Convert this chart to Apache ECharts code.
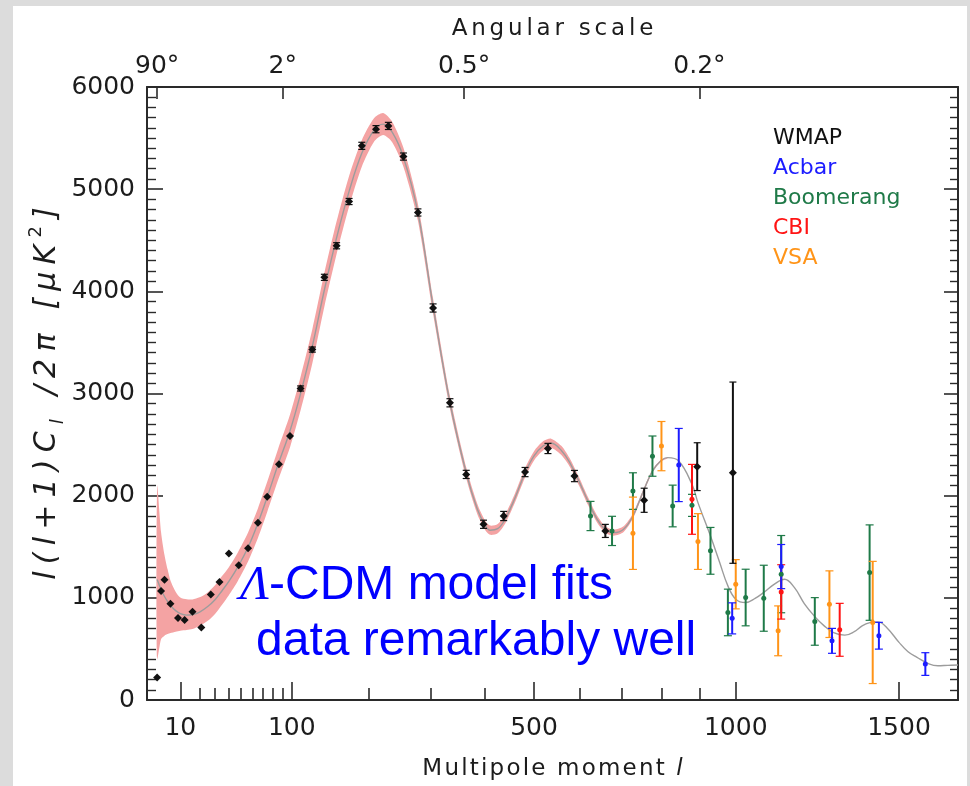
<!DOCTYPE html>
<html><head><meta charset="utf-8">
<script src="https://cdn.jsdelivr.net/npm/echarts@6/dist/echarts.min.js"></script>
<style>
html,body{margin:0;padding:0;background:#dcdcdc;}
#bg{position:absolute;left:13px;top:6px;width:954px;height:780px;background:#fff;}
#c{position:absolute;left:0;top:0;width:970px;height:786px;}
</style>
</head><body><div id="bg"></div><div id="c"></div>
<script>
// ---- axis definition (x axis drawn on an l^0.6 scale) ----
const POW = 0.6;
const L_MIN = 0.25, L_MAX = 1700;
const xMajorTicks = [10, 100, 500, 1000, 1500];
const xMinorTicks = [20, 30, 40, 50, 60, 70, 80, 90, 200, 300, 400, 600, 700, 800, 900];
const topTickL = [2, 90, 360, 900];
const topTickLabels = ['90°', '2°', '0.5°', '0.2°'];

// ---- WMAP ----
const wmapL = [2,3,4,6,9,12,16,21,27,33,40,48,56,65,74,86,98,110,124,139,155,172,190,211,230,254,278,304,334,364,397,437,481,530,589,661,756,894,992];
const wmapV = [221,1068,1176,941,802,782,863,710,1033,1156,1433,1319,1485,1736,1990,2307,2583,3049,3430,4137,4446,4879,5424,5587,5619,5319,4772,3837,2909,2208,1720,1801,2231,2462,2192,1655,1955,2284,2225];
const wmapErr = [0,0,0,0,0,0,0,0,0,0,0,0,0,0,0,0,0,25,25,30,30,30,35,35,35,35,35,40,40,40,40,45,45,50,55,64,118,234,887];
// ---- Acbar ----
const acbarL = [845,990,1131,1285,1434,1588];
const acbarV = [2300,799,1306,579,629,352];
const acbarErr = [358,152,216,122,131,111];
// ---- Boomerang ----
const boomL = [626,677,728,777,829,880,930,978,1028,1080,1131,1232,1404];
const boomV = [1801,1655,2045,2387,1899,1905,1460,857,1003,996,1232,769,1247];
const boomErr = [143,143,179,197,204,108,229,228,277,323,378,233,467];
// ---- CBI ----
const cbiL = [880,1131,1309];
const cbiV = [1964,1058,687];
const cbiErr = [342,266,259];
// ---- VSA ----
const vsaL = [728,800,896,1000,1122,1277,1414];
const vsaV = [1632,2485,1551,1133,677,938,759];
const vsaErr = [354,241,273,241,244,326,598];

// ---- Lambda-CDM model curve ----
const modelL = [2,3,4,5,6,8,10,13,16,20,25,30,35,40,47,56,65,74,85,98,110,124,139,155,172,190,208,222,236,254,278,304,334,364,385,400,410,425,440,460,481,500,520,537,560,580,600,620,640,660,681,705,728,756,777,800,816,845,880,896,930,955,978,1000,1028,1055,1080,1110,1141,1170,1200,1232,1260,1290,1325,1355,1380,1405,1431,1460,1500,1530,1560,1600,1631,1665,1700];
const modelV = [1180,1082,1013,964,925,875,846,831,836,861,915,984,1072,1161,1298,1495,1731,1987,2302,2636,3000,3463,4013,4525,4978,5351,5578,5637,5558,5312,4771,3856,2912,2223,1869,1712,1662,1677,1771,1977,2223,2390,2489,2513,2440,2312,2135,1948,1781,1672,1638,1672,1801,2062,2241,2346,2372,2339,2111,1932,1605,1348,1117,987,954,994,1053,1131,1182,1102,944,816,728,659,635,669,726,757,765,708,564,472,417,354,335,339,342];

// ---- cosmic variance band ----
const bandL = [2,3,4,5,6,8,10,13,16,20,25,30,35,40,47,56,65,74,85,98,110,124,139,155,172,190,208,222,236,254,278,304,334,364,385,400,410,425,440,460,481,500,520,537,560,580,600,620,640,660,681,705,728,756,777,800,816];
const bandHi = [2095,1643,1420,1279,1170,1060,1003,985,984,1005,1053,1125,1215,1300,1440,1640,1875,2135,2455,2795,3165,3630,4180,4685,5130,5480,5695,5745,5660,5405,4855,3930,2975,2278,1920,1757,1707,1722,1816,2022,2268,2435,2534,2558,2485,2352,2175,1986,1816,1704,1668,1700,1826,2082,2256,2356,2377];
const bandLo = [400,596,630,645,655,668,679,686,696,725,775,845,935,1025,1160,1355,1585,1840,2150,2475,2835,3295,3850,4365,4830,5220,5465,5530,5460,5220,4690,3780,2850,2170,1820,1667,1617,1632,1726,1932,2178,2345,2444,2468,2395,2272,2095,1910,1746,1640,1608,1644,1776,2042,2226,2336,2367];

const FONT = 'DejaVu Sans';
const AX = '#2a2a2a';
const TXT = '#1c1c1c';
const t = l => Math.pow(l, POW);
const XMIN = t(L_MIN), XMAX = t(L_MAX);

// letter-spaced rich text helper (each character its own token)
const spaced = (s, tok) => s.split('').map(c => `{${tok}|${c}}`).join('');

const colors = {WMAP:'#111111', Acbar:'#1c1cff', Boomerang:'#1f7a48', CBI:'#ff1414', VSA:'#ff9418'};

function errSeries(name, L, V, E, color, capW, lw) {
  return {
    name, type:'custom', xAxisIndex:0, yAxisIndex:0, z:5, silent:true,
    data: L.map((l,i)=>[t(l), V[i], E[i]]),
    renderItem: (params, api) => {
      const x = api.value(0), y = api.value(1), e = api.value(2);
      if (!e) return null;
      const p1 = api.coord([x, y+e]), p2 = api.coord([x, y-e]);
      return {type:'group', children:[
        {type:'line', shape:{x1:p1[0],y1:p1[1],x2:p2[0],y2:p2[1]}, style:{stroke:color,lineWidth:lw}},
        {type:'line', shape:{x1:p1[0]-capW,y1:p1[1],x2:p1[0]+capW,y2:p1[1]}, style:{stroke:color,lineWidth:1.2}},
        {type:'line', shape:{x1:p2[0]-capW,y1:p2[1],x2:p2[0]+capW,y2:p2[1]}, style:{stroke:color,lineWidth:1.2}}
      ]};
    }
  };
}
function pointSeries(name, L, V, color, symbol, size) {
  return {name, type:'scatter', xAxisIndex:0, yAxisIndex:0, z:6, silent:true,
    symbol, symbolSize:size, itemStyle:{color, opacity:1},
    data: L.map((l,i)=>[t(l), V[i]])};
}

const tickLabelStyle = {fontFamily:FONT, fontSize:25, color:TXT};
const yName = spaced('l(l+1)C','i') + '{s|l}' + spaced(' /2π [μK','i') + '{p|2}' + '{i|]}';

const option = {
  backgroundColor:'transparent',
  animation:false,
  grid:{left:147, right:12, top:87, bottom:85, containLabel:false},
  legend:{
    orient:'vertical', left:763, top:122, icon:'none', itemWidth:0, itemHeight:0, itemGap:8,
    selectedMode:false, textStyle:{fontFamily:FONT, fontSize:22},
    data:[
      {name:'WMAP', textStyle:{color:colors.WMAP}},
      {name:'Acbar', textStyle:{color:colors.Acbar}},
      {name:'Boomerang', textStyle:{color:colors.Boomerang}},
      {name:'CBI', textStyle:{color:colors.CBI}},
      {name:'VSA', textStyle:{color:colors.VSA}}
    ]
  },
  xAxis:[
    {
      type:'value', position:'bottom', min:XMIN, max:XMAX,
      axisLine:{show:true, onZero:false, lineStyle:{color:AX, width:2}},
      axisTick:{show:true, inside:true, length:18, customValues:xMajorTicks.map(t), lineStyle:{color:AX, width:1.6}},
      axisLabel:{show:true, customValues:xMajorTicks.map(t), margin:16,
        formatter:v=>String(Math.round(Math.pow(v,1/POW))), ...tickLabelStyle},
      splitLine:{show:false},
      name: spaced('Multipole moment ','a') + '{b|l}', nameLocation:'middle', nameGap:58,
      nameTextStyle:{rich:{
        a:{fontFamily:FONT, fontSize:23, color:TXT, padding:[0,1.1,0,1.1]},
        b:{fontFamily:FONT, fontSize:23, fontStyle:'italic', color:TXT, padding:[0,1,0,1]}
      }}
    },
    {
      type:'value', position:'top', min:XMIN, max:XMAX,
      axisLine:{show:true, onZero:false, lineStyle:{color:AX, width:2}},
      axisTick:{show:true, inside:true, length:12, customValues:topTickL.map(t), lineStyle:{color:AX, width:1.6}},
      axisLabel:{show:true, customValues:topTickL.map(t), margin:8, ...tickLabelStyle,
        formatter:v=>{let b=0; topTickL.forEach((l,i)=>{if(Math.abs(t(l)-v)<Math.abs(t(topTickL[b])-v)) b=i;}); return topTickLabels[b];}},
      splitLine:{show:false},
      name: spaced('Angular scale','a'), nameLocation:'middle', nameGap:46,
      nameTextStyle:{rich:{a:{fontFamily:FONT, fontSize:23, color:TXT, padding:[0,1.9,0,1.9]}}}
    },
    {
      type:'value', position:'bottom', min:XMIN, max:XMAX,
      axisLine:{show:false, onZero:false},
      axisTick:{show:true, inside:true, length:12, customValues:xMinorTicks.map(t), lineStyle:{color:AX, width:1.6}},
      axisLabel:{show:false}, splitLine:{show:false}
    }
  ],
  yAxis:[
    {
      type:'value', position:'left', min:0, max:6000, interval:1000,
      axisLine:{show:true, onZero:false, lineStyle:{color:AX, width:2}},
      axisTick:{show:true, inside:true, length:16, lineStyle:{color:AX, width:1.6}},
      minorTick:{show:true, splitNumber:10, length:9, lineStyle:{color:AX, width:1.4}},
      axisLabel:{margin:12, formatter:v=>String(v), ...tickLabelStyle},
      splitLine:{show:false},
      name: yName, nameLocation:'middle', nameRotate:90, nameGap:80, nameMoveOverlap:false,
      nameTextStyle:{rich:{
        i:{fontFamily:FONT, fontSize:30, fontStyle:'italic', color:TXT, lineHeight:40, verticalAlign:'middle', padding:[0,3.6,0,3.6]},
        s:{fontFamily:FONT, fontSize:18, fontStyle:'italic', color:TXT, lineHeight:40, verticalAlign:'bottom', padding:[0,3.6,0,3.6]},
        p:{fontFamily:FONT, fontSize:18, color:TXT, lineHeight:40, verticalAlign:'top', padding:[0,3.6,0,3.6]}
      }}
    },
    {
      type:'value', position:'right', min:0, max:6000, interval:1000,
      axisLine:{show:true, onZero:false, lineStyle:{color:AX, width:2}},
      axisTick:{show:true, inside:true, length:14, lineStyle:{color:AX, width:1.6}},
      minorTick:{show:true, splitNumber:10, length:8, lineStyle:{color:AX, width:1.4}},
      axisLabel:{show:false}, splitLine:{show:false}
    }
  ],
  graphic:[
    {type:'text', x:240, y:586, silent:true, z:10,
      style:{text:'{g|Λ}-CDM model fits', fill:'#0000ff', fontFamily:'Liberation Sans', fontSize:48, verticalAlign:'middle',
        rich:{g:{fontFamily:'Liberation Serif', fontStyle:'italic', fontSize:48, fill:'#0000ff'}}}},
    {type:'text', x:256, y:642, silent:true, z:10,
      style:{text:'data remarkably well', fill:'#0000ff', fontFamily:'Liberation Sans', fontSize:48, verticalAlign:'middle'}}
  ],
  series:[
    {name:'band', type:'custom', xAxisIndex:0, yAxisIndex:0, silent:true, z:1,
      data:[[XMIN, 0]],
      renderItem:(params, api)=>{
        const pts = [];
        for (let i=0;i<bandL.length;i++) pts.push(api.coord([t(bandL[i]), bandHi[i]]));
        for (let i=bandL.length-1;i>=0;i--) pts.push(api.coord([t(bandL[i]), bandLo[i]]));
        return {type:'polygon', shape:{points:pts, smooth:0.25}, style:{fill:'#f4a3a3'}};
      }},
    {name:'model', type:'line', smooth:0.4, symbol:'none', silent:true, z:2,
      lineStyle:{color:'#9c9c9c', width:1.4}, data:modelL.map((l,i)=>[t(l), modelV[i]])},
    errSeries('Boomerang', boomL, boomV, boomErr, colors.Boomerang, 4, 2),
    errSeries('VSA', vsaL, vsaV, vsaErr, colors.VSA, 4, 2),
    errSeries('CBI', cbiL, cbiV, cbiErr, colors.CBI, 4, 2),
    errSeries('Acbar', acbarL, acbarV, acbarErr, colors.Acbar, 4, 2),
    errSeries('WMAP', wmapL, wmapV, wmapErr, colors.WMAP, 3.5, 2),
    pointSeries('Boomerang', boomL, boomV, colors.Boomerang, 'circle', 5),
    pointSeries('VSA', vsaL, vsaV, colors.VSA, 'circle', 5),
    pointSeries('CBI', cbiL, cbiV, colors.CBI, 'circle', 5),
    pointSeries('Acbar', acbarL, acbarV, colors.Acbar, 'circle', 5),
    pointSeries('WMAP', wmapL, wmapV, colors.WMAP, 'diamond', 8)
  ]
};
const chart = echarts.init(document.getElementById('c'));
chart.setOption(option);
</script>
</body></html>
